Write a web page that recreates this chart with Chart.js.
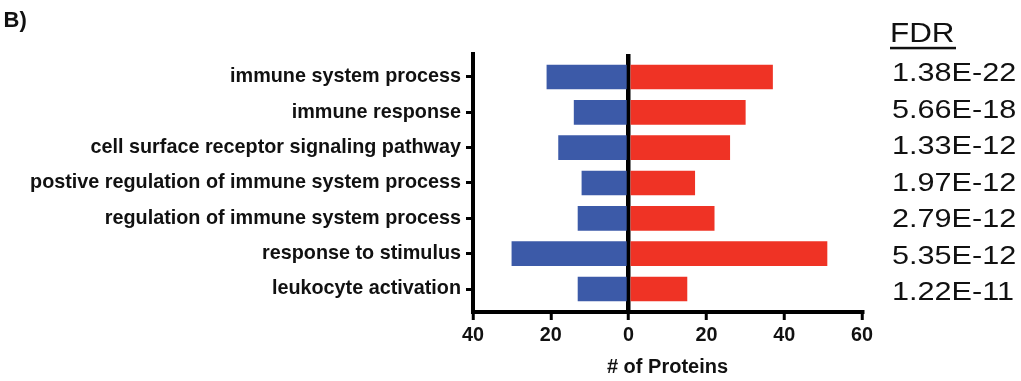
<!DOCTYPE html>
<html>
<head>
<meta charset="utf-8">
<script src="https://cdn.jsdelivr.net/npm/chart.js@4/dist/chart.umd.min.js"></script>
<style>
  html, body { margin: 0; padding: 0; background: #fff; }
  #wrap { width: 1021px; height: 381px; position: relative; }
</style>
</head>
<body>
<div id="wrap"><canvas id="c" width="1021" height="381"></canvas></div>
<script>
const categories = [
  'immune system process',
  'immune response',
  'cell surface receptor signaling pathway',
  'postive regulation of immune system process',
  'regulation of immune system process',
  'response to stimulus',
  'leukocyte activation'
];
const downProteins = [21, 14, 18, 12, 13, 30, 13];
const upProteins = [37, 30, 26, 17, 22, 51, 15];
const fdrValues = ['1.38E-22', '5.66E-18', '1.33E-12', '1.97E-12', '2.79E-12', '5.35E-12', '1.22E-11'];
const xTickValues = [-40, -20, 0, 20, 40, 60];
const panelLabel = 'B)';
const fdrHeader = 'FDR';
const xTitle = '# of Proteins';

const FONT = '"Liberation Sans", Arial, Helvetica, sans-serif';

const extras = {
  id: 'extras',
  afterDraw(chart) {
    const ctx = chart.ctx;
    ctx.save();
    ctx.fillStyle = '#111';
    ctx.textAlign = 'left';
    ctx.textBaseline = 'alphabetic';
    // panel label
    ctx.font = 'bold 22px ' + FONT;
    ctx.fillText(panelLabel, 3.5, 26.5);
    // FDR header
    ctx.save();
    ctx.translate(890, 42.3);
    ctx.scale(1.12, 1);
    ctx.font = '28px ' + FONT;
    ctx.fillText(fdrHeader, 0, 0);
    ctx.restore();
    ctx.fillRect(890, 46.8, 66, 2.5);
    // FDR values
    const base = 81.4, step = 36.46;
    fdrValues.forEach((t, i) => {
      ctx.save();
      ctx.translate(892, base + i * step);
      ctx.scale(1.2, 1);
      ctx.font = '25.5px ' + FONT;
      ctx.fillText(t, 0, 0);
      ctx.restore();
    });
    ctx.restore();
  }
};

new Chart(document.getElementById('c'), {
  type: 'bar',
  data: {
    datasets: [
      {
        label: 'down',
        data: downProteins.map((v, i) => ({ x: -v, y: i })),
        backgroundColor: '#3C5AA8',
        barThickness: 24
      },
      {
        label: 'up',
        data: upProteins.map((v, i) => ({ x: v, y: i })),
        backgroundColor: '#EF3325',
        barThickness: 24
      }
    ]
  },
  options: {
    indexAxis: 'y',
    responsive: false,
    animation: false,
    layout: { padding: { left: 0, top: 54, right: 159, bottom: 1 } },
    plugins: { legend: { display: false }, tooltip: { enabled: false } },
    scales: {
      x: {
        type: 'linear',
        stacked: true,
        offset: false,
        min: -40,
        max: 60,
        afterBuildTicks: s => { s.ticks = xTickValues.map(v => ({ value: v })); },
        afterFit: s => { s.height = 68; },
        border: { display: true, color: '#000', width: 4 },
        grid: {
          display: true,
          offset: false,
          drawOnChartArea: true,
          color: c => (c.tick && c.tick.value === 0) ? '#000' : 'rgba(0,0,0,0)',
          lineWidth: 4.5,
          tickColor: '#000',
          tickWidth: 3,
          tickLength: 8
        },
        ticks: {
          color: '#111',
          font: { family: FONT, size: 19.8, weight: 'bold' },
          padding: 4,
          maxRotation: 0,
          autoSkip: false,
          callback: v => String(Math.abs(v))
        },
        title: {
          display: true,
          text: xTitle,
          color: '#111',
          font: { family: FONT, size: 20, weight: 'bold' },
          padding: { top: 0, bottom: 1 }
        }
      },
      y: {
        type: 'linear',
        stacked: true,
        reverse: true,
        offset: false,
        min: -0.65,
        max: categories.length - 0.35,
        afterBuildTicks: s => { s.ticks = categories.map((c, i) => ({ value: i })); },
        afterFit: s => { s.width = 473; },
        border: { display: true, color: '#000', width: 4 },
        grid: {
          display: true,
          offset: false,
          drawOnChartArea: false,
          color: '#000',
          tickColor: '#000',
          tickWidth: 3,
          tickLength: 7
        },
        ticks: {
          color: '#111',
          font: { family: FONT, size: 19.8, weight: 'bold' },
          padding: 5,
          autoSkip: false,
          callback: v => categories[v] !== undefined ? categories[v] : ''
        }
      }
    }
  },
  plugins: [extras]
});
</script>
</body>
</html>
